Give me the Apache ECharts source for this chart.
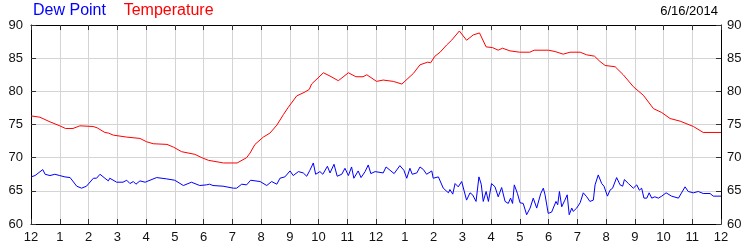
<!DOCTYPE html>
<html>
<head>
<meta charset="utf-8">
<script src="https://cdn.jsdelivr.net/npm/echarts@6/dist/echarts.min.js"></script>
<style>
html,body{margin:0;padding:0;background:#fff;}
#chart{width:750px;height:250px;}
</style>
</head>
<body>
<div id="chart"></div>
<script>
// ---- data (hours since midnight, degrees F) ----
var tickHours = [0,1,2,3,4,5,6,7,8,9,10,11,12,13,14,15,16,17,18,19,20,21,22,23,24];
var tickLabels = ['12','1','2','3','4','5','6','7','8','9','10','11','12','1','2','3','4','5','6','7','8','9','10','11','12'];
var yTicks = [60,65,70,75,80,85,90];
var dateLabel = '6/16/2014';
var seriesNames = ['Dew Point','Temperature'];

var tempHours = [0,0.31,0.66,1.0,1.2,1.46,1.7,2.16,2.3,2.57,2.7,2.86,3.33,3.79,4.02,4.25,4.73,4.95,5.24,5.7,5.94,6.17,6.7,7.17,7.5,7.62,7.79,8.08,8.31,8.55,8.78,8.95,9.24,9.53,9.68,9.76,9.82,10.17,10.4,10.69,11.04,11.3,11.55,11.68,12.02,12.25,12.6,12.9,13.3,13.53,13.8,13.9,14.05,14.23,14.46,14.63,14.9,15.15,15.38,15.6,15.83,16.05,16.25,16.4,16.66,17.0,17.35,17.5,18.0,18.23,18.51,18.75,19.1,19.33,19.6,19.79,19.97,20.32,20.6,20.95,21.3,21.65,21.94,22.23,22.58,23.04,23.38,24.0];
var tempValues = [76.3,76.1,75.4,74.8,74.4,74.4,74.8,74.7,74.5,73.8,73.7,73.4,73.1,72.9,72.4,72.1,72.0,71.6,70.9,70.5,70.0,69.6,69.2,69.2,70.0,70.7,72.0,73.1,73.7,74.9,76.5,77.6,79.3,79.9,80.3,81.1,80.9,82.8,82.3,81.6,82.8,82.2,82.2,82.5,81.5,81.7,81.5,81.1,82.7,84.0,84.4,84.3,85.3,85.9,87.0,87.7,89.1,87.7,88.5,88.8,86.7,86.6,86.2,86.5,86.1,85.9,85.9,86.2,86.2,86.0,85.6,85.9,85.9,85.5,85.3,84.5,83.9,83.7,82.5,80.7,79.4,77.4,76.8,75.9,75.5,74.7,73.8,73.8];

var dewHours = [0,0.14,0.41,0.49,0.66,0.83,1.0,1.18,1.36,1.59,1.76,1.93,2.17,2.28,2.4,2.57,2.69,2.74,2.98,3.2,3.33,3.44,3.56,3.65,3.79,3.97,4.14,4.37,4.72,5.0,5.3,5.58,5.87,6.1,6.21,6.33,6.68,7.04,7.15,7.33,7.5,7.64,7.97,8.02,8.2,8.37,8.55,8.66,8.83,9.01,9.12,9.3,9.47,9.59,9.7,9.82,9.9,10.05,10.15,10.31,10.4,10.54,10.65,10.81,10.92,11.04,11.15,11.23,11.38,11.48,11.62,11.73,11.82,11.97,12.25,12.35,12.49,12.63,12.83,12.97,13.07,13.18,13.26,13.42,13.53,13.65,13.76,13.94,13.99,14.17,14.34,14.52,14.57,14.67,14.75,14.86,14.98,15.15,15.27,15.36,15.48,15.58,15.66,15.73,15.83,15.91,16.02,16.14,16.25,16.37,16.49,16.6,16.68,16.75,16.81,16.92,17.01,17.12,17.24,17.36,17.47,17.59,17.73,17.82,17.88,17.99,18.11,18.17,18.26,18.32,18.38,18.46,18.57,18.65,18.72,18.81,18.86,18.98,19.1,19.21,19.33,19.44,19.56,19.62,19.73,19.85,19.93,20.05,20.14,20.23,20.37,20.49,20.58,20.64,20.78,20.95,21.07,21.16,21.24,21.32,21.42,21.5,21.59,21.7,21.82,21.94,22.09,22.28,22.52,22.75,22.86,23.04,23.21,23.38,23.62,23.73,24.0];
var dewValues = [67.1,67.3,68.2,67.5,67.3,67.5,67.3,67.1,67.0,65.7,65.4,65.7,66.9,66.9,67.5,66.9,66.5,66.9,66.3,66.3,66.6,66.1,66.4,66.0,66.5,66.3,66.6,67.0,66.8,66.6,65.8,66.3,65.8,65.9,66.0,65.8,65.7,65.4,65.4,66.0,65.9,66.6,66.4,66.4,65.8,66.4,66.0,66.9,67.1,68.0,67.3,67.9,67.7,67.2,68.1,69.2,67.5,67.9,67.5,68.7,67.7,69.0,67.2,67.5,68.4,67.3,68.6,66.9,68.0,67.0,67.9,68.9,67.6,67.9,67.7,68.6,68.1,67.6,68.8,68.1,66.9,68.4,67.5,67.7,68.6,68.2,67.5,68.0,66.9,67.1,65.4,64.7,65.2,64.5,66.1,65.6,66.4,63.6,64.7,64.4,63.4,67.1,66.0,63.4,64.9,63.4,66.1,65.6,64.1,65.5,63.4,63.1,63.9,63.1,65.9,64.6,63.2,63.1,61.4,62.4,63.9,62.4,64.6,65.4,64.4,61.6,61.8,61.7,63.4,62.9,64.9,62.6,63.6,64.4,61.4,62.4,61.9,62.4,63.2,64.7,64.1,63.4,63.6,65.9,67.4,66.1,65.7,64.2,65.1,65.4,67.0,65.9,65.7,66.7,66.1,65.4,65.9,65.1,65.4,63.9,63.9,64.7,63.9,64.1,63.9,64.2,64.7,64.2,63.9,65.6,64.9,64.7,64.9,64.6,64.6,64.2,64.2];

function pairs(xs, ys){ var out=[]; for(var i=0;i<xs.length;i++) out.push([xs[i], ys[i]]); return out; }
function hourLabel(v){ var i = tickHours.indexOf(Math.round(v)); return i>=0 ? tickLabels[i] : ''; }

var FONT = 'Liberation Sans, Arial, sans-serif';
var labelColor = '#111';
var gridColor = '#d4d4d4';

var chart = echarts.init(document.getElementById('chart'), null, {renderer:'canvas'});
chart.setOption({
  animation: false,
  backgroundColor: '#fff',
  title: [{
    text: '{a|' + seriesNames[0] + '}    {b|' + seriesNames[1] + '}',
    left: 33, top: 3, padding: 0,
    textStyle: { fontWeight: 'normal', fontSize: 16, fontFamily: FONT, rich: {
      a: { color: '#0000ff', fontSize: 16, fontWeight: 'normal', fontFamily: FONT },
      b: { color: '#ff0000', fontSize: 16, fontWeight: 'normal', fontFamily: FONT }
    }}
  }, {
    text: dateLabel, right: 32, top: 5, padding: 0,
    textStyle: { color: '#000', fontSize: 13, fontWeight: 'normal', fontFamily: FONT }
  }],
  grid: { left: 31, right: 29, top: 25, bottom: 26, containLabel: false },
  xAxis: [{
    type: 'value', position: 'bottom', min: 0, max: 24, interval: 1,
    axisLine: { show: true, onZero: false, lineStyle: { color: '#000', width: 1 } },
    axisTick: { show: true, inside: true, length: 5, lineStyle: { color: '#333' } },
    axisLabel: { margin: 7, color: labelColor, fontSize: 13, fontFamily: FONT, formatter: hourLabel, showMinLabel: true, showMaxLabel: true },
    splitLine: { show: true, lineStyle: { color: gridColor, width: 1 } }
  }, {
    type: 'value', position: 'top', min: 0, max: 24, interval: 1,
    axisLine: { show: true, onZero: false, lineStyle: { color: '#000', width: 1 } },
    axisTick: { show: true, inside: true, length: 5, lineStyle: { color: '#333' } },
    axisLabel: { show: false },
    splitLine: { show: false }
  }],
  yAxis: [{
    type: 'value', position: 'left', min: yTicks[0], max: yTicks[yTicks.length-1], interval: 5,
    axisLine: { show: true, onZero: false, lineStyle: { color: '#000', width: 1 } },
    axisTick: { show: true, inside: true, length: 5, lineStyle: { color: '#333' } },
    axisLabel: { margin: 8, color: labelColor, fontSize: 13, fontFamily: FONT },
    splitLine: { show: true, lineStyle: { color: gridColor, width: 1 } }
  }, {
    type: 'value', position: 'right', min: yTicks[0], max: yTicks[yTicks.length-1], interval: 5,
    axisLine: { show: true, onZero: false, lineStyle: { color: '#000', width: 1 } },
    axisTick: { show: true, inside: true, length: 5, lineStyle: { color: '#333' } },
    axisLabel: { margin: 6, color: labelColor, fontSize: 13, fontFamily: FONT },
    splitLine: { show: false }
  }],
  series: [{
    name: seriesNames[0], type: 'line', xAxisIndex: 0, yAxisIndex: 0,
    data: pairs(dewHours, dewValues), showSymbol: false, symbol: 'none',
    lineStyle: { color: '#0000ff', width: 1 }, itemStyle: { color: '#0000ff' }, z: 3
  }, {
    name: seriesNames[1], type: 'line', xAxisIndex: 0, yAxisIndex: 0,
    data: pairs(tempHours, tempValues), showSymbol: false, symbol: 'none',
    lineStyle: { color: '#ff0000', width: 1 }, itemStyle: { color: '#ff0000' }, z: 4
  }]
});
</script>
</body>
</html>
